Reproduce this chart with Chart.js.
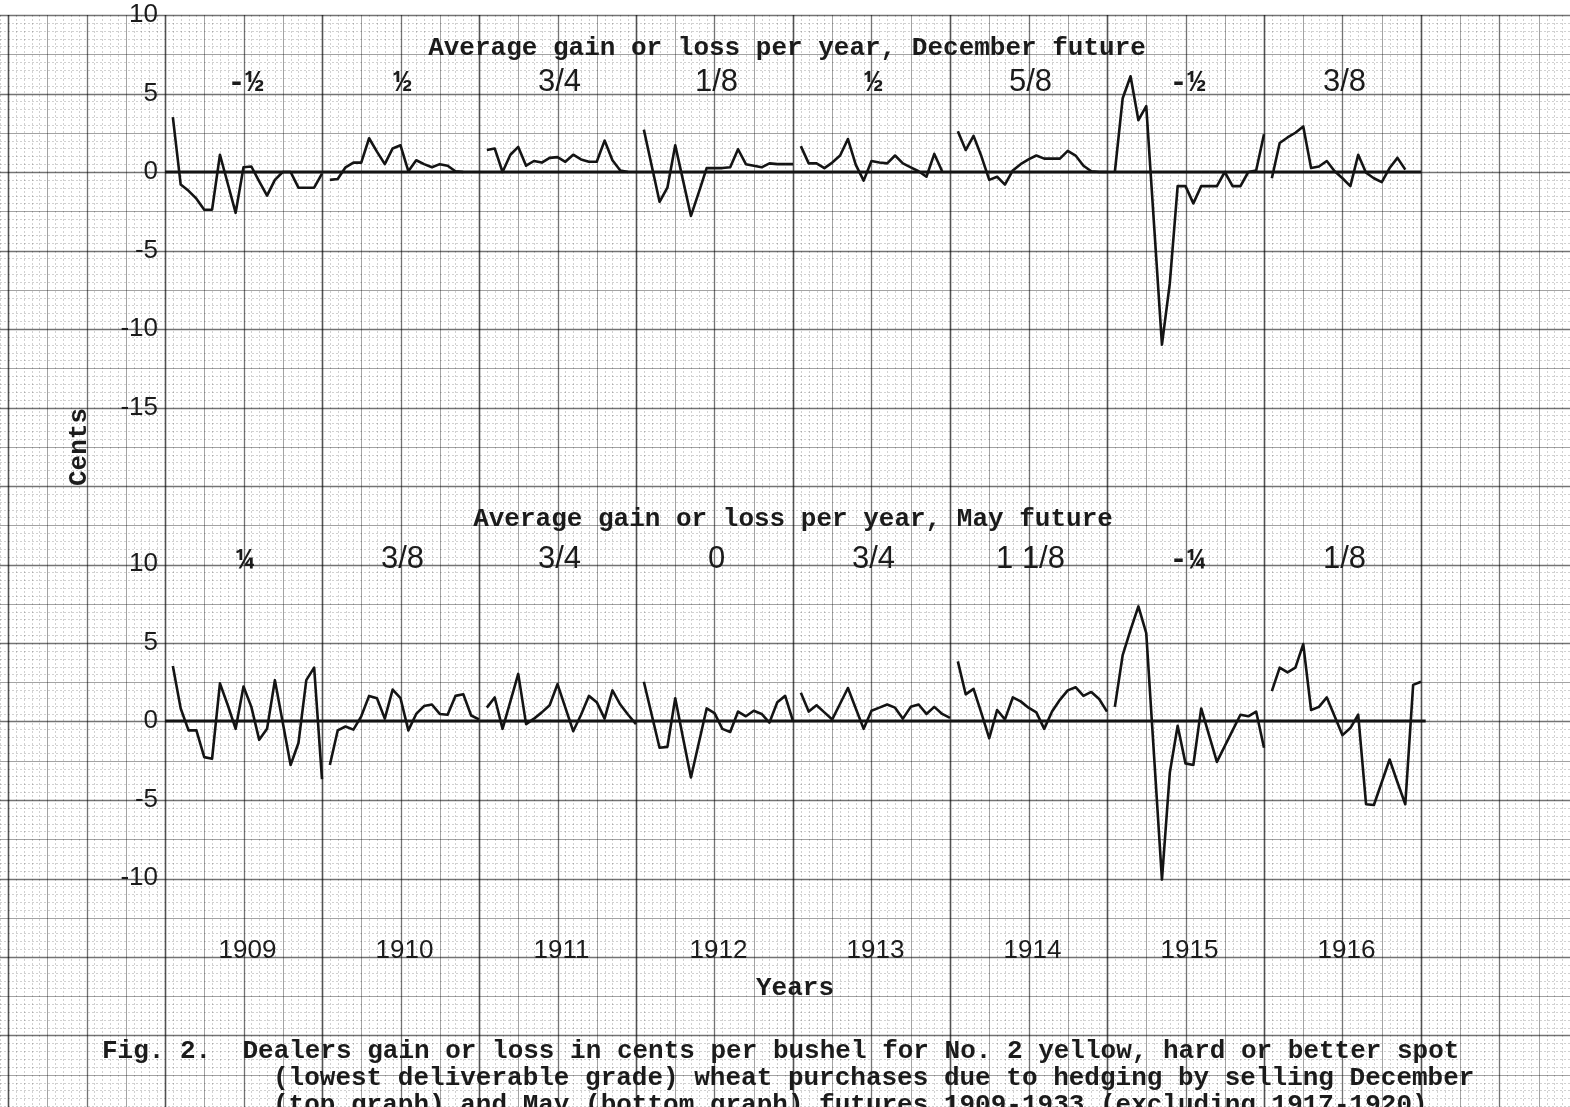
<!DOCTYPE html>
<html>
<head>
<meta charset="utf-8">
<title>Fig. 2 - Dealers gain or loss, 1909-1916</title>
<script src="https://cdn.jsdelivr.net/npm/chart.js@4.4.1/dist/chart.umd.min.js"></script>
<style>
  html, body { margin: 0; padding: 0; background: #fff; }
  canvas { display: block; }
</style>
</head>
<body>
<canvas id="hedgeChart" width="1570" height="1107"></canvas>
<script>
// Values, cents per bushel, up to 20 readings per crop year
const years = [1909, 1910, 1911, 1912, 1913, 1914, 1915, 1916];
const decemberAverages = ['-½', '½', '3/4', '1/8', '½', '5/8', '-½', '3/8'];
const mayAverages = ['¼', '3/8', '3/4', '0', '3/4', '1 1/8', '-¼', '1/8'];

const decemberGain = [
    [3.5, -0.8, -1.2, -1.7, -2.4, -2.4, 1.1, -0.75, -2.6, 0.3, 0.35, -0.6, -1.5, -0.5, 0, 0, -1.0, -1.0, -1.0, -0.1],
    [-0.5, -0.45, 0.3, 0.6, 0.6, 2.15, 1.3, 0.5, 1.5, 1.7, 0.05, 0.75, 0.5, 0.3, 0.5, 0.4, 0.05, 0],
    [1.4, 1.5, 0.0, 1.1, 1.6, 0.4, 0.7, 0.6, 0.9, 0.95, 0.65, 1.1, 0.8, 0.65, 0.65, 2.0, 0.75, 0.1, 0],
    [2.7, 0.4, -1.9, -1.0, 1.7, -0.55, -2.8, -1.3, 0.25, 0.25, 0.25, 0.3, 1.45, 0.5, 0.4, 0.3, 0.55, 0.5, 0.5, 0.5],
    [1.65, 0.55, 0.55, 0.25, 0.6, 1.05, 2.1, 0.45, -0.55, 0.7, 0.6, 0.55, 1.05, 0.55, 0.3, 0.05, -0.3, 1.15, 0.05],
    [2.6, 1.4, 2.3, 1.0, -0.5, -0.3, -0.8, 0.1, 0.5, 0.8, 1.05, 0.85, 0.85, 0.85, 1.35, 1.05, 0.4, 0.05, 0, 0],
    [0, 4.7, 6.1, 3.3, 4.2, -3.4, -11.0, -7.1, -0.9, -0.9, -2.0, -0.9, -0.9, -0.9, 0, -0.9, -0.9, 0, 0.1, 2.4],
    [-0.4, 1.85, 2.2, 2.5, 2.9, 0.25, 0.35, 0.7, 0.05, -0.4, -0.9, 1.1, -0.05, -0.4, -0.65, 0.25, 0.9, 0.15]
];

const mayGain = [
    [3.5, 0.8, -0.6, -0.6, -2.3, -2.4, 2.4, 1.0, -0.5, 2.2, 0.9, -1.2, -0.5, 2.6, -0.1, -2.8, -1.4, 2.6, 3.4, -3.7],
    [-2.8, -0.6, -0.35, -0.55, 0.3, 1.6, 1.45, 0.15, 2.0, 1.45, -0.6, 0.45, 0.95, 1.05, 0.45, 0.4, 1.6, 1.7, 0.35, 0.1],
    [0.85, 1.5, -0.5, 1.25, 3.0, -0.2, 0.15, 0.55, 1.0, 2.35, 0.85, -0.65, 0.4, 1.6, 1.2, 0.15, 1.95, 1.05, 0.4, -0.2],
    [2.5, 0.4, -1.7, -1.65, 1.45, -1.1, -3.6, -1.4, 0.8, 0.5, -0.5, -0.7, 0.6, 0.3, 0.65, 0.45, -0.1, 1.2, 1.6, 0],
    [1.8, 0.6, 1.0, 0.55, 0.1, 1.1, 2.1, 0.8, -0.5, 0.65, 0.85, 1.05, 0.85, 0.15, 0.9, 1.05, 0.45, 0.9, 0.45, 0.2],
    [3.8, 1.7, 2.05, 0.5, -1.1, 0.7, 0.1, 1.5, 1.25, 0.85, 0.55, -0.5, 0.6, 1.35, 1.95, 2.15, 1.6, 1.85, 1.4, 0.6],
    [0.9, 4.2, 5.8, 7.3, 5.6, -2.25, -10.1, -3.3, -0.3, -2.7, -2.8, 0.8, -0.9, -2.6, -1.6, -0.6, 0.4, 0.3, 0.6, -1.7],
    [1.9, 3.4, 3.1, 3.4, 4.9, 0.7, 0.9, 1.5, 0.3, -0.9, -0.45, 0.4, -5.3, -5.35, -3.9, -2.45, -3.9, -5.3, 2.3, 2.5]
];

const decemberTicks = [10, 5, 0, -5, -10, -15];
const mayTicks = [10, 5, 0, -5, -10];
const decemberZeroLine = [0, 160];
const mayZeroLine = [0, 160.6];
const slotsPerYear = 20;

const captionLines = [
    'Fig. 2.  Dealers gain or loss in cents per bushel for No. 2 yellow, hard or better spot',
    '(lowest deliverable grade) wheat purchases due to hedging by selling December',
    '(top graph) and May (bottom graph) futures 1909-1933 (excluding 1917-1920)'
];

// Paper layout (pixels)
const pxPerSlot = 7.85;
const pxPerCent = 15.7;
const plotLeft = 165;
const decZeroPx = 172;
const mayZeroPx = 721;
const splitPx = 470;          // where the December axis hands over to the May axis
const pageW = 1570, pageH = 1107;

const typed = 'bold 26px "Liberation Mono", "DejaVu Sans Mono", monospace';
const typedFraction = 'bold 30px "Liberation Mono", "DejaVu Sans Mono", monospace';
const lettered = '26px "Liberation Sans", Arial, sans-serif';
const letteredBig = '31px "Liberation Sans", Arial, sans-serif';
const ink = '#1b1b1b';

function yearSeries(valuesByYear) {
    const pts = [];
    valuesByYear.forEach((vals, yi) => {
        vals.forEach((v, k) => pts.push({ x: yi * slotsPerYear + k + 1, y: v }));
        pts.push({ x: yi * slotsPerYear + slotsPerYear + 0.5, y: null });
    });
    return pts;
}

function zeroSeries(ends) {
    return ends.map(u => ({ x: u, y: 0 }));
}

// no padding for end labels: the scales must span the whole sheet
function flatFit(scale) {
    scale.width = plotLeft;
    scale.paddingTop = 0;
    scale.paddingBottom = 0;
    scale.paddingLeft = 0;
    scale.paddingRight = 0;
}

// Graph paper drawn behind everything, positioned through the chart scales
const graphPaper = {
    id: 'graphPaper',
    beforeDraw(chart) {
        const { ctx } = chart;
        const x = chart.scales.x, y = chart.scales.y;
        const top = y.getPixelForValue(10);
        ctx.save();
        ctx.fillStyle = '#fff';
        ctx.fillRect(0, 0, chart.width, chart.height);

        const stroke = (level) => {
            if (level === 3) { ctx.strokeStyle = 'rgba(0,0,0,0.68)'; ctx.lineWidth = 1.6; ctx.setLineDash([]); }
            else if (level === 2) { ctx.strokeStyle = 'rgba(0,0,0,0.55)'; ctx.lineWidth = 1.3; ctx.setLineDash([]); }
            else if (level === 1) { ctx.strokeStyle = 'rgba(0,0,0,0.36)'; ctx.lineWidth = 1; ctx.setLineDash([]); }
            else { ctx.strokeStyle = 'rgba(0,0,0,0.18)'; ctx.lineWidth = 1; ctx.setLineDash([2, 2]); }
        };

        // vertical rulings, one per slot
        const uStart = Math.ceil(x.getValueForPixel(0));
        const uEnd = Math.floor(x.getValueForPixel(chart.width));
        for (let level = 0; level <= 3; level++) {
            stroke(level);
            ctx.beginPath();
            for (let u = uStart; u <= uEnd; u++) {
                const l = u % 20 === 0 ? 3 : u % 10 === 0 ? 2 : u % 5 === 0 ? 1 : 0;
                if (l !== level) continue;
                const px = Math.round(x.getPixelForValue(u)) + 0.5;
                ctx.moveTo(px, top);
                ctx.lineTo(px, chart.height);
            }
            ctx.stroke();
        }

        // horizontal rulings, every half cent (top axis extended down the sheet)
        const jStart = Math.ceil(y.getValueForPixel(chart.height) * 2);
        const jEnd = 20;
        for (let level = 0; level <= 2; level++) {
            stroke(level);
            ctx.beginPath();
            for (let j = jStart; j <= jEnd; j++) {
                const l = j % 10 === 0 ? 2 : j % 5 === 0 ? 1 : 0;
                if (l !== level) continue;
                const py = Math.round(y.getPixelForValue(j / 2)) + 0.5;
                ctx.moveTo(0, py);
                ctx.lineTo(chart.width, py);
            }
            ctx.stroke();
        }
        ctx.restore();
    }
};

// Typed and lettered notes on the sheet
const sheetText = {
    id: 'sheetText',
    afterDraw(chart) {
        const { ctx } = chart;
        const x = chart.scales.x;
        const yearMid = (i) => x.getPixelForValue(i * slotsPerYear + slotsPerYear / 2) + 2;
        ctx.save();
        ctx.fillStyle = ink;
        ctx.textBaseline = 'alphabetic';

        ctx.font = typed;
        ctx.textAlign = 'center';
        ctx.fillText('Average gain or loss per year, December future', 787, 55);
        ctx.fillText('Average gain or loss per year, May future', 793, 526);
        ctx.fillText('Years', 795, 995);

        const avgFont = (s) => /[½¼]/.test(s) ? typedFraction : letteredBig;
        decemberAverages.forEach((s, i) => {
            ctx.font = avgFont(s);
            ctx.fillText(s, yearMid(i), 91);
        });
        mayAverages.forEach((s, i) => {
            ctx.font = avgFont(s);
            ctx.fillText(s, yearMid(i), 568);
        });

        ctx.font = lettered;
        years.forEach((yr, i) => ctx.fillText(String(yr), yearMid(i) + 2, 958));

        ctx.font = typed;
        ctx.textAlign = 'left';
        ctx.fillText(captionLines[0], 102, 1058);
        ctx.fillText(captionLines[1], 273, 1085);
        ctx.fillText(captionLines[2], 273, 1112);

        ctx.save();
        ctx.translate(79, 447);
        ctx.rotate(-Math.PI / 2);
        ctx.textAlign = 'center';
        ctx.textBaseline = 'middle';
        ctx.fillText('Cents', 0, 0);
        ctx.restore();

        ctx.restore();
    }
};

const lineStyle = {
    borderColor: '#141414',
    borderWidth: 2.6,
    borderJoinStyle: 'round',
    pointRadius: 0,
    tension: 0,
    spanGaps: false,
    fill: false
};

const tickFont = { family: '"Liberation Sans", Arial, sans-serif', size: 26 };

function centsAxis(weight, stackWeight, min, max, shown) {
    return {
        type: 'linear',
        position: 'left',
        stack: 'cents',
        weight: weight,
        stackWeight: stackWeight,
        min: min,
        max: max,
        afterFit: flatFit,
        grid: { display: false, drawTicks: false },
        border: { display: false },
        ticks: {
            stepSize: 5,
            includeBounds: false,
            autoSkip: false,
            padding: 7,
            crossAlign: 'near',
            color: ink,
            font: tickFont,
            callback: (v) => shown.includes(v) ? String(v) : ''
        }
    };
}

const config = {
    type: 'line',
    data: {
        datasets: [
            Object.assign({ label: 'December future', data: yearSeries(decemberGain), yAxisID: 'y' }, lineStyle),
            Object.assign({ label: 'May future', data: yearSeries(mayGain), yAxisID: 'y2' }, lineStyle),
            Object.assign({ label: 'zero (Dec)', data: zeroSeries(decemberZeroLine), yAxisID: 'y' }, lineStyle, { borderWidth: 3 }),
            Object.assign({ label: 'zero (May)', data: zeroSeries(mayZeroLine), yAxisID: 'y2' }, lineStyle, { borderWidth: 3 })
        ]
    },
    options: {
        responsive: false,
        animation: false,
        events: [],
        layout: { padding: 0, autoPadding: false },
        scales: {
            x: {
                type: 'linear',
                display: false,
                min: 0,
                max: (pageW - plotLeft) / pxPerSlot
            },
            // December axis on the upper band, May axis on the lower band
            y: centsAxis(2, splitPx, (decZeroPx - splitPx) / pxPerCent, decZeroPx / pxPerCent, decemberTicks),
            y2: centsAxis(1, pageH - splitPx, -(pageH - mayZeroPx) / pxPerCent, (mayZeroPx - splitPx) / pxPerCent, mayTicks)
        },
        plugins: {
            legend: { display: false },
            tooltip: { enabled: false },
            title: { display: false }
        }
    },
    plugins: [graphPaper, sheetText]
};

new Chart(document.getElementById('hedgeChart'), config);
</script>
</body>
</html>
